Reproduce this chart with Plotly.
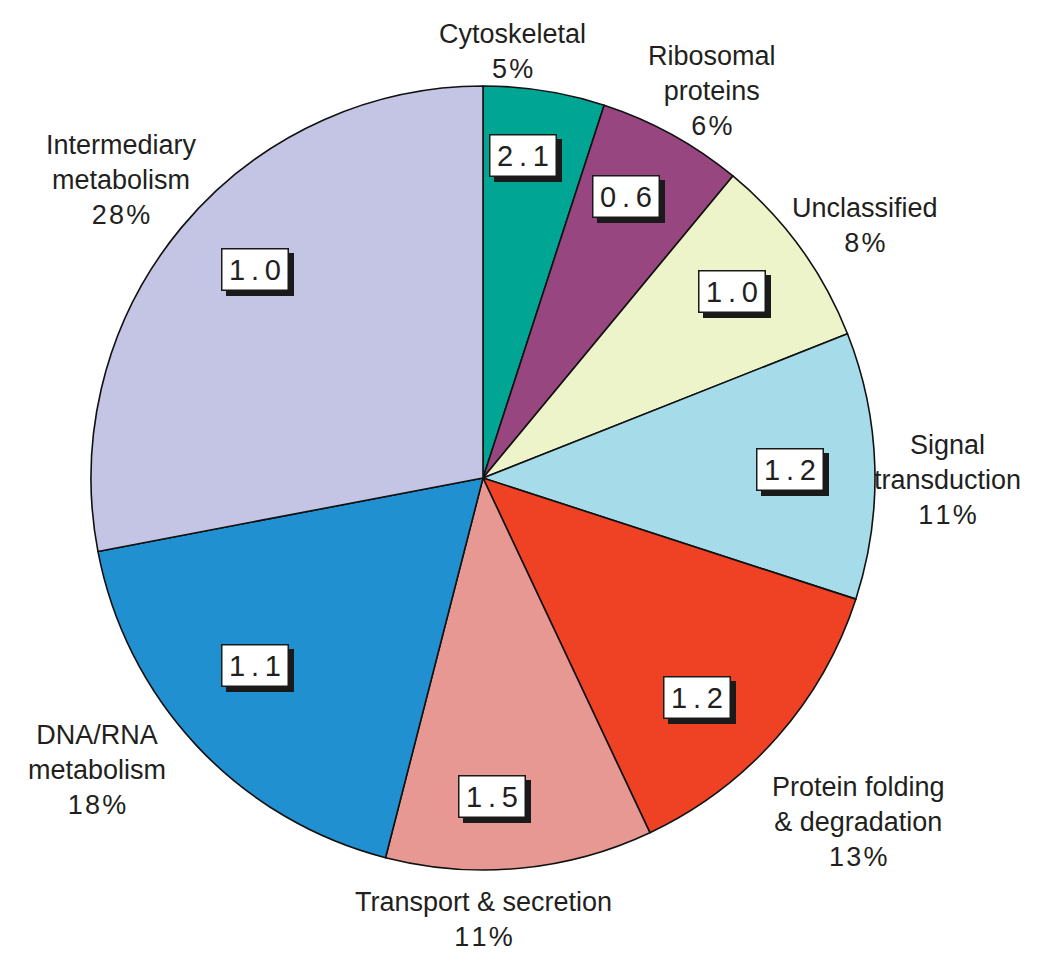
import math
import plotly.graph_objects as go

# ---- data ----
categories = ["Cytoskeletal", "Ribosomal<br>proteins", "Unclassified", "Signal<br>transduction",
              "Protein folding<br>& degradation", "Transport & secretion", "DNA/RNA<br>metabolism",
              "Intermediary<br>metabolism"]
percents = [5, 6, 8, 11, 13, 11, 18, 28]
ratios = ["2.1", "0.6", "1.0", "1.2", "1.2", "1.5", "1.1", "1.0"]

colors = ["#00A693", "#984680", "#EEF4CA", "#A6DBEA", "#EF4123", "#E89893", "#2190D0", "#C4C4E4"]

# ---- geometry (pixels) ----
W, H = 1050, 965
CX, CY, R = 483, 478, 392

# label placement: (angle from 12 o'clock clockwise, distance as fraction of R)
label_pos = [(4.0, 1.09), (30.6, 1.148), (56.6, 1.168), (90.2, 1.186),
             (132.5, 1.298), (180.0, 1.125), (232.9, 1.235), (309.5, 1.194)]
box_pos = [(7.0, 0.83), (26.9, 0.806), (53.2, 0.793), (88.5, 0.783),
           (135.7, 0.781), (178.4, 0.814), (230.6, 0.753), (312.4, 0.788)]

TXT = "#231f20"
FONT = "Liberation Sans, Arial, sans-serif"


def to_paper(ang, frac):
    a = math.radians(ang)
    px = CX + frac * R * math.sin(a)
    py = CY - frac * R * math.cos(a)
    return px / W, 1 - py / H


fig = go.Figure(go.Pie(
    labels=[c.replace("<br>", " ") for c in categories],
    values=percents,
    sort=False,
    direction="clockwise",
    rotation=0,
    textinfo="none",
    hoverinfo="label+percent",
    marker=dict(colors=colors, line=dict(color="#111111", width=1.6)),
    domain=dict(x=[(CX - R) / W, (CX + R) / W], y=[(H - CY - R) / H, (H - CY + R) / H]),
    showlegend=False,
))

annotations = []
for cat, pct, (ang, frac) in zip(categories, percents, label_pos):
    x, y = to_paper(ang, frac)
    pct_txt = "\u200a".join(list(str(pct))) + "\u200a%"
    annotations.append(dict(
        x=x, y=y, xref="paper", yref="paper", showarrow=False,
        text=f"{cat}<br>{pct_txt}", align="center",
        xanchor="center", yanchor="middle",
        font=dict(family=FONT, size=27, color=TXT),
    ))

for r_txt, (ang, frac) in zip(ratios, box_pos):
    x, y = to_paper(ang, frac)
    t = "\u2009.\u2009".join(r_txt.split("."))
    # drop shadow (blank box)
    annotations.append(dict(
        x=x, y=y, xref="paper", yref="paper", showarrow=False,
        text="\u00a0", xanchor="center", yanchor="middle", xshift=5, yshift=-5,
        width=63, height=38, borderpad=1, borderwidth=1.5,
        bgcolor="#1a1a1a", bordercolor="#1a1a1a",
        font=dict(family=FONT, size=29, color="#1a1a1a"),
    ))
    annotations.append(dict(
        x=x, y=y, xref="paper", yref="paper", showarrow=False,
        text=t, xanchor="center", yanchor="middle",
        width=63, height=38, borderpad=1, borderwidth=1.5,
        bgcolor="white", bordercolor="#1a1a1a",
        font=dict(family=FONT, size=29, color=TXT),
    ))

fig.update_layout(
    width=W, height=H, autosize=False,
    margin=dict(l=0, r=0, t=0, b=0),
    paper_bgcolor="white", plot_bgcolor="white",
    annotations=annotations,
)

fig.write_html("out.html", config={"displayModeBar": False},
               post_script="document.body.style.margin='0px';")
